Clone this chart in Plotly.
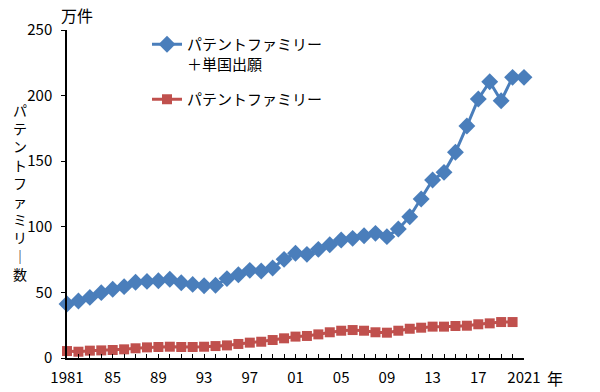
import plotly.graph_objects as go

years = list(range(1981, 2022))
family_plus_single = [41.2, 43.4, 46.2, 49.8, 52.4, 54.4, 57.7, 58.4, 58.9, 60.0,
                      57.4, 56.1, 55.1, 55.4, 60.5, 63.5, 66.8, 66.3, 68.6, 75.2,
                      79.8, 79.0, 82.8, 86.3, 89.9, 91.2, 93.2, 95.0, 92.5, 98.3,
                      107.7, 121.2, 135.7, 141.5, 156.8, 176.8, 197.4, 210.6, 196.1, 213.9,
                      213.9]
family_years = list(range(1981, 2021))
family = [5.3, 4.8, 5.6, 5.8, 6.1, 6.6, 7.4, 8.1, 8.4, 8.6,
          8.4, 8.4, 8.6, 9.1, 9.6, 10.7, 11.7, 12.4, 13.7, 15.0,
          16.3, 16.8, 18.0, 19.6, 20.8, 21.3, 20.8, 19.6, 19.3, 20.8,
          22.3, 23.1, 23.9, 23.9, 24.4, 24.6, 25.7, 26.4, 27.4, 27.4]
tick_years = [1981, 1985, 1989, 1993, 1997, 2001, 2005, 2009, 2013, 2017, 2021]
tick_text = ["1981", "85", "89", "93", "97", "01", "05", "09", "13", "17", "2021"]
y_title_chars = list("パテントファミリ") + ["｜", "数"]

FONT = "Noto Sans CJK JP"
BLUE = "#4A7EBB"
RED = "#C0504D"

W, H = 600, 392
L, R, T, B = 67, 76, 30, 34
PW, PH = W - L - R, H - T - B


def px(x):
    return (x - L) / PW


def py(y):
    return (H - B - y) / PH


fig = go.Figure()
fig.add_trace(go.Scatter(
    x=years, y=family_plus_single, mode="lines+markers",
    name="パテントファミリー<br>＋単国出願", legendgroup="a",
    line=dict(color=BLUE, width=3),
    marker=dict(symbol="diamond", size=13, color=BLUE),
    cliponaxis=False))
fig.add_trace(go.Scatter(
    x=family_years, y=family, mode="lines+markers",
    name="パテントファミリー", legendgroup="b",
    line=dict(color=RED, width=3),
    marker=dict(symbol="square", size=10, color=RED),
    cliponaxis=False))

fig.update_layout(
    width=W, height=H,
    margin=dict(l=L, r=R, t=T, b=B, autoexpand=False),
    paper_bgcolor="white", plot_bgcolor="white",
    font=dict(family=FONT, size=15, color="black"),
    showlegend=True,
    legend=dict(x=px(147), y=py(28), xanchor="left", yanchor="top",
                bgcolor="rgba(0,0,0,0)", font=dict(size=15, family=FONT),
                valign="top", tracegroupgap=13, itemwidth=30),
    xaxis=dict(range=[1981, 2021], tickvals=tick_years, ticktext=tick_text,
               showline=True, linecolor="black", linewidth=1.5,
               ticks="inside", ticklen=4, tickcolor="black", tickwidth=1,
               minor=dict(dtick=1, tick0=1981, ticks="inside", ticklen=4,
                          tickcolor="black", tickwidth=1),
               showgrid=False, zeroline=False, automargin=False,
               ticklabelstandoff=5,
               tickfont=dict(size=15, family=FONT)),
    yaxis=dict(range=[0, 250], dtick=50, showline=True, linecolor="black",
               linewidth=1.5, ticks="outside", ticklen=4, tickcolor="black",
               showgrid=False, zeroline=False, automargin=False,
               ticklabelstandoff=6,
               tickfont=dict(size=15, family=FONT)),
)

fig.add_annotation(text="万件", x=px(77), y=py(15), xref="paper", yref="paper",
                   xanchor="center", yanchor="middle",
                   showarrow=False, font=dict(size=16, family=FONT))
fig.add_annotation(text="年", x=px(555), y=py(378), xref="paper", yref="paper",
                   xanchor="center", yanchor="middle",
                   showarrow=False, font=dict(size=16, family=FONT))
fig.add_annotation(text="<br>".join(y_title_chars), x=px(20),
                   y=py((110 + 110 + 9 * 18.2) / 2),
                   xref="paper", yref="paper",
                   xanchor="center", yanchor="middle", align="center",
                   showarrow=False, font=dict(size=14, family=FONT))

fig.write_html("out.html",
               config={"displayModeBar": False},
               post_script="document.body.style.margin='0';"
                           "document.body.style.overflow='hidden';")
